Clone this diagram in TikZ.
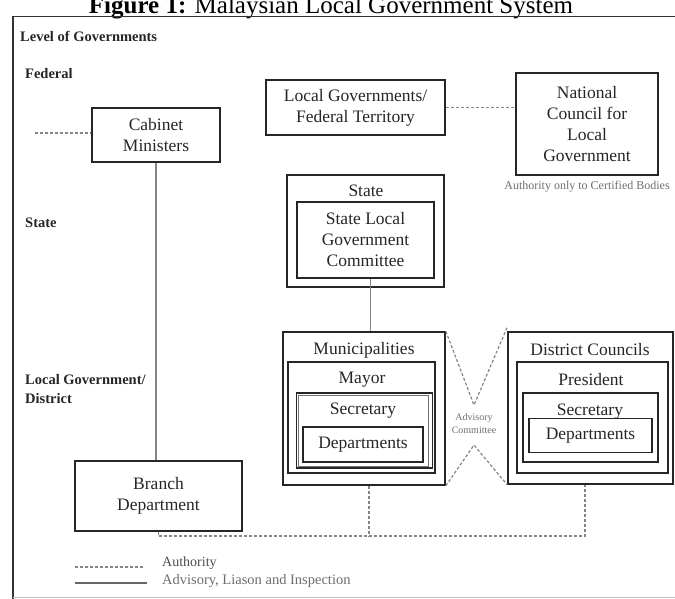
\documentclass[tikz,border=0pt]{standalone}
\usepackage{fontspec}
\setmainfont{Liberation Serif}
\definecolor{txt}{HTML}{262626}
\definecolor{lgray}{HTML}{6E6E6E}
\definecolor{conn}{HTML}{858585}
\begin{document}
\begin{tikzpicture}[x=1pt,y=-1pt,
  bx/.style={draw=black!85, line width=1.6pt, inner sep=0pt, align=center, text=txt,
    font=\fontsize{17.5}{21}\selectfont},
  boxlabel/.style={inner sep=0pt, text=txt, font=\fontsize{17.5}{21}\selectfont},
  lvl/.style={inner sep=0pt, anchor=west, font=\fontsize{14.5}{19}\selectfont\bfseries, text=black!85, align=left},
  solidconn/.style={draw=conn, line width=1.2pt},
  dashconn/.style={draw=conn, line width=1.2pt, dash pattern=on 3pt off 2pt},
  smalltxt/.style={inner sep=0pt, text=lgray},
]
\useasboundingbox (0,0) rectangle (675,598);
\begin{scope}
\clip (0,0) rectangle (675,598);
% title
\node[inner sep=0pt, anchor=base, font=\fontsize{25}{28}\selectfont] (title) at (331,13)
  {\textbf{Figure 1:} Malaysian Local Government System};
% frame
\draw[line width=1.8pt, draw=black!80] (13,598.5) -- (13,16.5) -- (680,16.5);
\draw[line width=0.6pt, draw=black!25] (13,597) -- (680,597);
\end{scope}

% level labels
\node[lvl] (lvlgov) at (20,36) {Level of Governments};
\node[lvl] (lvlfed) at (25,74) {Federal};
\node[lvl] (lvlstate) at (25,223) {State};
\node[lvl] (lvllocal) at (25,389) {Local Government/\\District};

% federal boxes
\node[bx, minimum width=128pt, minimum height=54pt] (cab) at (156,135) {Cabinet\\Ministers};
\node[bx, minimum width=179pt, minimum height=55pt] (lgft) at (355.5,107.5) {Local Governments/\\Federal Territory};
\node[bx, minimum width=142pt, minimum height=102pt] (ncl) at (587,124) {National\\Council for\\Local\\Government};
\node[smalltxt, font=\fontsize{12}{14}\selectfont] (ncnote) at (587,187) {Authority only to Certified Bodies};
\coordinate (cableft) at (35,133);

% state
\node[bx, minimum width=157pt, minimum height=112pt] (stateO) at (365.5,231) {};
\node[boxlabel] (stateL) at (366,191) {State};
\node[bx, minimum width=137pt, minimum height=76pt] (stateI) at (365.5,240) {State Local\\Government\\Committee};

% municipalities
\node[bx, minimum width=162pt, minimum height=153pt] (muni) at (364,408.5) {};
\node[boxlabel] (muniL) at (364,350) {Municipalities};
\node[bx, minimum width=147pt, minimum height=111pt] (mayor) at (361.5,417.5) {};
\node[boxlabel] (mayorL) at (362,380) {Mayor};
\node[bx, minimum width=136pt, minimum height=75pt] (msec) at (364.5,430.5) {};
\node[bx, draw=black!55, line width=1pt, minimum width=130pt, minimum height=71pt] (msec2) at (363,430.5) {};
\node[boxlabel] (msecL) at (363,411) {Secretary};
\node[bx, minimum width=120pt, minimum height=35pt] (mdep) at (363,444.5) {Departments};

% district councils
\node[bx, minimum width=165pt, minimum height=152pt] (dist) at (590.5,408) {};
\node[boxlabel] (distL) at (590,350) {District Councils};
\node[bx, minimum width=151pt, minimum height=111pt] (pres) at (592.5,417.5) {};
\node[boxlabel] (presL) at (591,380) {President};
\node[bx, minimum width=135pt, minimum height=69pt] (dsec) at (590.5,427.5) {};
\node[boxlabel] (dsecL) at (590,412) {Secretary};
\node[bx, minimum width=123pt, minimum height=34pt] (ddep) at (590.5,435.5) {Departments};

% branch department
\node[bx, minimum width=167pt, minimum height=70pt] (branch) at (158.5,496) {Branch\\Department};

% advisory committee
\node[smalltxt, align=center, font=\fontsize{10}{13}\selectfont] (adv) at (474,424) {Advisory\\Committee};
\coordinate (advtop) at (474,405);
\coordinate (advbot) at (474,445);

% connectors
\draw[dashconn] (cableft) -- (cab.west |- cableft);
\draw[dashconn] (lgft.east) -- (lgft.east -| ncl.west);
\draw[solidconn] (cab.south) -- (cab.south |- branch.north);
\draw[solidconn] ([xshift=5pt]stateI.south) -- ([xshift=5pt]stateI.south |- muni.north);
\draw[dashconn] (muni.north east) -- (advtop) -- ([yshift=4pt]dist.north west);
\draw[dashconn] (muni.south east) -- (advbot) -- (dist.south west);
\coordinate (bus) at (0,536);
\draw[dashconn] (branch.south) -- (branch.south |- bus) -- ([xshift=-5.5pt]dist.south |- bus) -- ([xshift=-5.5pt]dist.south);
\draw[dashconn] ([xshift=5pt]muni.south) -- ([xshift=5pt]muni.south |- bus);

% legend
\coordinate (la1) at (75,567);
\coordinate (la2) at (143,567);
\coordinate (lb1) at (75,583);
\coordinate (lb2) at (147,583);
\draw[dashconn] (la1) -- (la2);
\draw[solidconn, draw=black!60] (lb1) -- (lb2);
\node[smalltxt, anchor=west, font=\fontsize{14}{16}\selectfont, text=black!70] (legA) at (162,563) {Authority};
\node[smalltxt, anchor=west, font=\fontsize{14.5}{16}\selectfont] (legB) at (162,581) {Advisory, Liason and Inspection};
\end{tikzpicture}
\end{document}
